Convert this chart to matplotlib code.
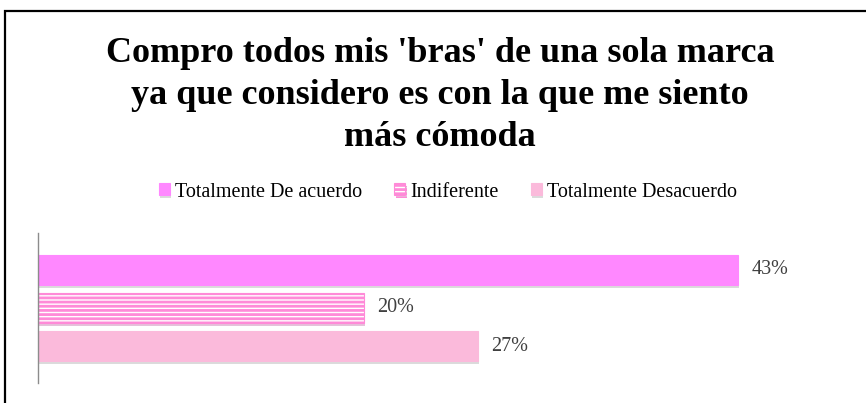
import matplotlib.pyplot as plt
import matplotlib.patches as mpatches
import matplotlib.patheffects as pe

plt.rcParams['font.family'] = ['Liberation Serif', 'DejaVu Serif']
plt.rcParams['hatch.linewidth'] = 2.0

title = "Compro todos mis 'bras' de una sola marca\nya que considero es con la que me siento\nmás cómoda"
series = ["Totalmente De acuerdo", "Indiferente", "Totalmente Desacuerdo"]
values = [0.43, 0.20, 0.27]
labels = ["43%", "20%", "27%"]

colors = ["#FF88FF", "#FFFFFF", "#FBBADB"]
edges = ["#FF88FF", "#FF8AD8", "#FBBADB"]
hatches = [None, "----", None]

fig = plt.figure(figsize=(8.66, 4.03), dpi=100)

# black frame of the chart area (cut by the picture on the right and bottom)
frame = mpatches.Rectangle((5 / 866, -0.2), 2.0, 1.2 - 11 / 403,
                           transform=fig.transFigure, fill=False,
                           edgecolor="black", linewidth=1.6)
fig.patches.append(frame)

fig.text(440 / 866, 1 - 96 / 403, title, ha="center", va="center",
         fontsize=26, fontweight="bold", linespacing=1.36, color="black")

ax = fig.add_axes([38 / 866, 1 - 383 / 403, 814 / 866, 150 / 403])

shadow = [pe.SimplePatchShadow(offset=(1, -2), shadow_rgbFace="#999999", alpha=0.35), pe.Normal()]
for i, (name, v) in enumerate(zip(series, values)):
    b = ax.barh(i, v, height=0.8, color=colors[i], edgecolor=edges[i],
                hatch=hatches[i], linewidth=0.8, label=name)
    for p in b:
        p.set_path_effects(shadow)
    ax.text(v + 0.0085, i, labels[i], ha="left", va="center", fontsize=14.5,
            color="#404040")

ax.set_xlim(0, 0.5)
ax.set_ylim(2.97, -0.97)
ax.set_xticks([])
ax.set_yticks([])
for s in ["top", "right", "bottom"]:
    ax.spines[s].set_visible(False)
ax.spines["left"].set_color("#8c8c8c")
ax.spines["left"].set_linewidth(1.0)

handles, lbls = ax.get_legend_handles_labels()
fig.legend(handles, lbls, loc="center", bbox_to_anchor=(448 / 866, 1 - 192 / 403),
           ncol=3, frameon=False, fontsize=14.5, handlelength=0.55,
           handleheight=0.55, handletextpad=0.25, columnspacing=1.6)

fig.savefig("out.png", dpi=100)
